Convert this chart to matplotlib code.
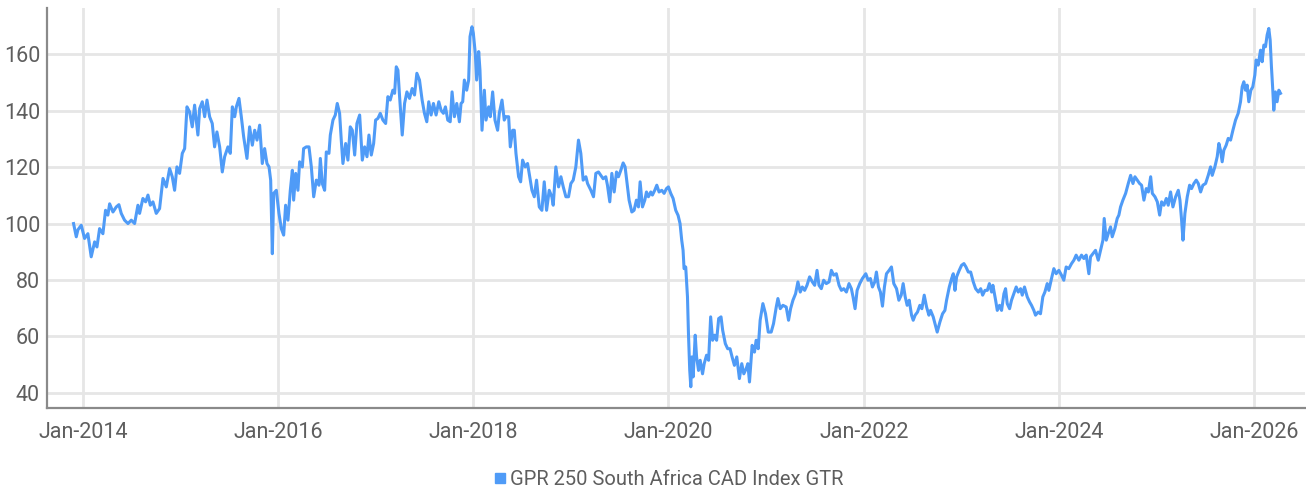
import matplotlib
matplotlib.use("Agg")
import matplotlib.pyplot as plt
import matplotlib.dates as mdates
from matplotlib.lines import Line2D
import pandas as pd

# ---- data (decimal year, index value) ----
years_2014_2015 = [2013.904, 2013.932, 2013.949, 2013.983, 2014.017, 2014.051, 2014.085, 2014.120, 2014.144, 2014.171,
                   2014.205, 2014.232, 2014.256, 2014.274, 2014.308, 2014.342, 2014.369, 2014.393, 2014.427, 2014.462,
                   2014.496, 2014.530, 2014.564, 2014.581, 2014.615, 2014.643, 2014.667, 2014.691, 2014.718, 2014.752,
                   2014.786, 2014.821, 2014.855, 2014.889, 2014.916, 2014.940, 2014.964, 2014.991, 2015.019, 2015.043,
                   2015.067, 2015.094, 2015.121, 2015.145, 2015.162, 2015.179, 2015.197, 2015.224, 2015.248, 2015.272,
                   2015.299, 2015.326, 2015.350, 2015.374, 2015.402, 2015.429, 2015.453, 2015.487, 2015.511, 2015.532,
                   2015.556, 2015.573, 2015.600, 2015.624, 2015.648, 2015.682, 2015.709, 2015.737, 2015.761, 2015.785,
                   2015.812, 2015.839, 2015.863, 2015.887, 2015.908, 2015.925, 2015.942, 2015.956, 2015.983]
values_2014_2015 = [100.0, 95.3, 97.8, 99.4, 94.7, 96.4, 88.2, 93.5, 91.7, 98.2,
                    96.4, 104.7, 103.0, 107.0, 104.1, 105.9, 106.7, 103.6, 101.2, 100.0,
                    101.2, 100.0, 106.5, 103.6, 108.9, 107.7, 110.1, 106.5, 107.7, 103.6,
                    105.3, 116.0, 113.0, 119.5, 116.6, 111.8, 120.1, 117.8, 124.9, 126.6,
                    141.4, 139.6, 134.3, 142.0, 136.7, 131.4, 140.8, 143.2, 137.9, 143.8,
                    137.9, 135.5, 127.2, 132.5, 127.2, 118.3, 123.7, 127.2, 124.9, 141.4,
                    137.9, 141.4, 144.4, 137.9, 130.8, 123.1, 134.3, 127.8, 133.1, 129.6,
                    134.9, 121.3, 126.6, 121.3, 120.1, 115.4, 89.3, 110.7, 111.8]

years_2016_2017 = [2016.010, 2016.034, 2016.058, 2016.078, 2016.102, 2016.126, 2016.147, 2016.160, 2016.181, 2016.204,
                   2016.221, 2016.249, 2016.262, 2016.290, 2016.317, 2016.341, 2016.365, 2016.392, 2016.419, 2016.433,
                   2016.453, 2016.477, 2016.494, 2016.521, 2016.535, 2016.562, 2016.586, 2016.606, 2016.630, 2016.647,
                   2016.664, 2016.692, 2016.715, 2016.739, 2016.760, 2016.784, 2016.807, 2016.835, 2016.862, 2016.886,
                   2016.910, 2016.930, 2016.954, 2016.978, 2016.998, 2017.022, 2017.046, 2017.073, 2017.101, 2017.124,
                   2017.148, 2017.175, 2017.193, 2017.210, 2017.227, 2017.244, 2017.271, 2017.295, 2017.319, 2017.346,
                   2017.373, 2017.397, 2017.421, 2017.448, 2017.475, 2017.499, 2017.523, 2017.543, 2017.567, 2017.591,
                   2017.618, 2017.646, 2017.669, 2017.693, 2017.714, 2017.738, 2017.763, 2017.782, 2017.806, 2017.830,
                   2017.857, 2017.874, 2017.891, 2017.908, 2017.932, 2017.952, 2017.966, 2017.986, 2018.000, 2018.020,
                   2018.034, 2018.055, 2018.068, 2018.089]
values_2016_2017 = [103.6, 98.2, 95.9, 106.5, 101.2, 111.8, 118.9, 108.3, 117.8, 111.8,
                    121.9, 120.1, 126.6, 127.2, 127.2, 120.1, 109.5, 115.4, 113.6, 123.1,
                    114.2, 111.8, 125.4, 124.9, 131.4, 136.7, 138.5, 142.6, 139.1, 129.6,
                    121.3, 128.4, 122.5, 134.3, 133.1, 124.3, 135.5, 138.5, 122.5, 127.2,
                    123.7, 131.4, 124.3, 128.4, 136.7, 137.3, 139.1, 136.7, 135.5, 145.0,
                    143.8, 147.3, 146.2, 155.6, 154.4, 145.0, 131.4, 142.6, 146.7, 144.4,
                    147.9, 145.6, 153.3, 150.9, 143.8, 139.1, 136.1, 143.2, 138.5, 142.6,
                    138.5, 143.2, 140.2, 139.1, 141.4, 136.7, 136.1, 146.7, 137.9, 142.6,
                    136.1, 142.6, 143.2, 150.9, 147.3, 150.9, 166.3, 169.8, 167.5, 160.4,
                    150.9, 161.0, 154.4, 133.1]

years_2018_2020 = [2018.113, 2018.130, 2018.157, 2018.174, 2018.198, 2018.222, 2018.249, 2018.266, 2018.294, 2018.317,
                   2018.334, 2018.362, 2018.379, 2018.403, 2018.420, 2018.437, 2018.464, 2018.485, 2018.505, 2018.532,
                   2018.556, 2018.573, 2018.601, 2018.625, 2018.648, 2018.676, 2018.703, 2018.727, 2018.751, 2018.778,
                   2018.805, 2018.819, 2018.846, 2018.874, 2018.898, 2018.922, 2018.949, 2018.976, 2019.000, 2019.024,
                   2019.051, 2019.078, 2019.102, 2019.126, 2019.154, 2019.171, 2019.205, 2019.232, 2019.256, 2019.283,
                   2019.307, 2019.331, 2019.358, 2019.375, 2019.399, 2019.420, 2019.444, 2019.468, 2019.488, 2019.512,
                   2019.536, 2019.556, 2019.580, 2019.597, 2019.625, 2019.648, 2019.672, 2019.693, 2019.710, 2019.734,
                   2019.758, 2019.775, 2019.795, 2019.819, 2019.836, 2019.860, 2019.881, 2019.904, 2019.932, 2019.956,
                   2019.980, 2020.000, 2020.024, 2020.048, 2020.075, 2020.099, 2020.119, 2020.136, 2020.150, 2020.160,
                   2020.177, 2020.195, 2020.205, 2020.218, 2020.229]
values_2018_2020 = [147.3, 136.7, 141.4, 137.9, 146.7, 136.7, 133.1, 139.1, 143.8, 136.7,
                    137.9, 137.9, 127.2, 133.1, 133.1, 124.9, 116.6, 114.8, 122.5, 120.1,
                    121.3, 117.8, 111.8, 109.5, 115.4, 105.9, 104.7, 114.8, 104.7, 111.8,
                    109.5, 106.5, 120.1, 113.0, 116.6, 113.0, 109.5, 109.5, 114.2, 115.4,
                    120.1, 129.6, 124.9, 115.4, 116.6, 114.2, 111.8, 109.5, 117.8, 118.3,
                    117.1, 115.9, 116.6, 113.6, 107.7, 117.8, 111.2, 118.3, 116.6, 118.9,
                    121.5, 120.1, 113.0, 108.3, 104.1, 104.7, 108.3, 105.9, 114.8, 105.9,
                    108.3, 111.2, 109.5, 111.2, 110.1, 111.8, 113.6, 111.2, 111.8, 110.7,
                    112.4, 113.0, 110.7, 108.9, 104.7, 102.9, 100.0, 94.1, 90.5, 84.0,
                    84.6, 74.0, 61.0, 48.0, 42.1]

years_2020_2023 = [2020.240, 2020.253, 2020.274, 2020.288, 2020.308, 2020.325, 2020.349, 2020.366, 2020.390, 2020.411,
                   2020.432, 2020.452, 2020.473, 2020.493, 2020.514, 2020.538, 2020.555, 2020.582, 2020.606, 2020.630,
                   2020.651, 2020.675, 2020.699, 2020.726, 2020.750, 2020.771, 2020.795, 2020.812, 2020.829, 2020.856,
                   2020.880, 2020.897, 2020.918, 2020.938, 2020.966, 2020.993, 2021.021, 2021.051, 2021.075, 2021.103,
                   2021.120, 2021.144, 2021.171, 2021.205, 2021.229, 2021.250, 2021.274, 2021.301, 2021.325, 2021.349,
                   2021.370, 2021.394, 2021.418, 2021.445, 2021.473, 2021.497, 2021.521, 2021.541, 2021.565, 2021.589,
                   2021.616, 2021.644, 2021.668, 2021.692, 2021.719, 2021.747, 2021.771, 2021.795, 2021.822, 2021.849,
                   2021.873, 2021.890, 2021.911, 2021.932, 2021.959, 2021.986, 2022.021, 2022.045, 2022.068, 2022.089,
                   2022.113, 2022.130, 2022.151, 2022.171, 2022.192, 2022.212, 2022.233, 2022.260, 2022.284, 2022.308,
                   2022.336, 2022.360, 2022.384, 2022.404, 2022.425, 2022.445, 2022.466, 2022.490, 2022.507, 2022.527,
                   2022.551, 2022.575, 2022.596, 2022.620, 2022.644, 2022.668, 2022.685, 2022.712, 2022.740, 2022.753,
                   2022.781, 2022.808, 2022.832, 2022.849, 2022.877, 2022.901, 2022.918, 2022.935, 2022.952, 2022.979,
                   2023.003, 2023.027, 2023.048, 2023.072, 2023.096, 2023.123, 2023.147, 2023.175, 2023.199, 2023.219,
                   2023.243, 2023.267, 2023.288]
values_2020_2023 = [52.7, 45.6, 60.4, 52.7, 47.9, 51.5, 46.7, 50.3, 53.3, 51.5,
                    66.9, 58.6, 60.4, 58.6, 66.3, 66.9, 62.1, 57.4, 55.6, 55.6,
                    52.7, 49.7, 52.7, 45.0, 50.3, 46.7, 48.5, 50.3, 43.8, 56.8,
                    54.4, 58.6, 55.6, 65.7, 71.6, 68.0, 61.5, 61.5, 64.5, 70.4,
                    73.4, 69.8, 71.0, 70.4, 65.7, 69.8, 72.8, 75.1, 79.3, 75.7,
                    77.5, 76.3, 78.1, 81.1, 79.3, 78.1, 83.4, 78.1, 76.9, 79.9,
                    78.7, 79.3, 83.4, 81.7, 82.2, 78.1, 76.3, 76.9, 75.7, 78.7,
                    76.9, 74.0, 69.8, 76.3, 78.7, 80.5, 82.2, 79.9, 80.5, 77.5,
                    79.3, 82.8, 77.5, 75.7, 70.7, 77.5, 82.2, 83.4, 84.6, 78.7,
                    76.9, 72.8, 74.6, 78.7, 74.0, 71.0, 72.8, 67.5, 65.7, 67.5,
                    68.6, 71.0, 69.8, 74.6, 70.4, 67.5, 69.2, 66.9, 63.3, 61.5,
                    65.1, 68.0, 69.2, 72.8, 77.5, 80.5, 82.2, 76.3, 81.1, 83.4,
                    85.2, 85.8, 84.6, 82.8, 82.8, 79.3, 76.9, 75.7, 76.9, 74.6,
                    76.3, 76.3, 78.7]

years_2023_2026 = [2023.311, 2023.324, 2023.352, 2023.369, 2023.392, 2023.413, 2023.437, 2023.454, 2023.471, 2023.495,
                   2023.515, 2023.539, 2023.563, 2023.584, 2023.608, 2023.625, 2023.648, 2023.676, 2023.700, 2023.720,
                   2023.744, 2023.761, 2023.788, 2023.812, 2023.836, 2023.857, 2023.881, 2023.898, 2023.925, 2023.949,
                   2023.973, 2024.000, 2024.027, 2024.051, 2024.075, 2024.102, 2024.130, 2024.154, 2024.177, 2024.205,
                   2024.232, 2024.256, 2024.280, 2024.307, 2024.324, 2024.348, 2024.375, 2024.403, 2024.427, 2024.451,
                   2024.464, 2024.485, 2024.505, 2024.529, 2024.546, 2024.573, 2024.597, 2024.614, 2024.631, 2024.655,
                   2024.683, 2024.710, 2024.734, 2024.758, 2024.778, 2024.802, 2024.826, 2024.846, 2024.870, 2024.894,
                   2024.915, 2024.939, 2024.956, 2024.983, 2025.007, 2025.031, 2025.051, 2025.075, 2025.099, 2025.119,
                   2025.143, 2025.167, 2025.195, 2025.222, 2025.239, 2025.256, 2025.270, 2025.290, 2025.314, 2025.338,
                   2025.358, 2025.382, 2025.406, 2025.427, 2025.451, 2025.474, 2025.502, 2025.529, 2025.553, 2025.570,
                   2025.597, 2025.621, 2025.638, 2025.655, 2025.672, 2025.689, 2025.713, 2025.734, 2025.758, 2025.782,
                   2025.809, 2025.836, 2025.860, 2025.877, 2025.894, 2025.911, 2025.928, 2025.945, 2025.966, 2025.986,
                   2026.007, 2026.020, 2026.041, 2026.065, 2026.082, 2026.099, 2026.116, 2026.133, 2026.150, 2026.164,
                   2026.177, 2026.191, 2026.201, 2026.218, 2026.235, 2026.253, 2026.270]
values_2023_2026 = [75.7, 78.1, 72.8, 69.2, 71.0, 69.2, 75.1, 76.9, 71.6, 69.8,
                    72.8, 75.1, 77.5, 75.7, 76.9, 74.6, 77.5, 74.0, 72.2, 71.0,
                    69.2, 67.5, 68.6, 68.0, 74.0, 75.7, 78.7, 76.3, 80.5, 84.0,
                    82.2, 83.4, 81.7, 79.9, 84.6, 84.0, 85.8, 87.0, 88.8, 87.0,
                    88.8, 87.6, 88.8, 82.2, 88.2, 89.3, 90.5, 87.0, 90.5, 94.1,
                    101.8, 94.1, 96.4, 98.8, 95.3, 98.2, 101.8, 103.0, 105.9, 108.3,
                    110.7, 114.2, 117.1, 114.2, 116.6, 115.4, 114.2, 113.6, 108.3, 112.4,
                    111.2, 116.6, 110.7, 109.5, 107.7, 103.0, 107.7, 106.5, 108.9, 106.5,
                    111.2, 105.9, 109.5, 111.8, 108.3, 101.2, 94.1, 103.6, 109.5, 113.6,
                    112.4, 114.2, 115.4, 114.2, 111.2, 113.6, 114.2, 117.1, 120.1, 117.1,
                    120.1, 123.7, 128.4, 126.0, 121.9, 126.0, 127.8, 130.2, 129.6, 133.1,
                    136.7, 139.1, 143.2, 148.5, 150.3, 147.3, 149.1, 143.2, 147.3, 148.5,
                    152.7, 158.0, 156.2, 161.5, 157.4, 163.3, 162.7, 166.9, 169.2, 165.1,
                    155.6, 147.3, 140.2, 146.7, 143.2, 147.3, 146.2]

series_label = "GPR 250 South Africa CAD Index GTR"
y_ticks = [40, 60, 80, 100, 120, 140, 160]
x_tick_years = [2014, 2016, 2018, 2020, 2022, 2024, 2026]


def dec_to_dt(y):
    yr = int(y)
    start = pd.Timestamp(yr, 1, 1)
    end = pd.Timestamp(yr + 1, 1, 1)
    return start + (end - start) * (y - yr)


years = years_2014_2015 + years_2016_2017 + years_2018_2020 + years_2020_2023 + years_2023_2026
values = values_2014_2015 + values_2016_2017 + values_2018_2020 + values_2020_2023 + values_2023_2026
dates = [dec_to_dt(y) for y in years]

plt.rcParams['font.family'] = ['Roboto', 'DejaVu Sans']

LINE = '#4f9bf7'
TXT = '#5e5e5e'
GRID = '#e6e6e6'

fig = plt.figure(figsize=(13.06, 4.93), dpi=100)
ax = fig.add_axes([0.036, 0.172, 0.963, 0.812])

ax.plot(dates, values, color=LINE, linewidth=2.2, solid_joinstyle='round', zorder=3)

ax.set_ylim(34.5, 176.5)
ax.set_xlim(dec_to_dt(2013.632), dec_to_dt(2026.518))
ax.set_yticks(y_ticks)
ax.set_xticks([pd.Timestamp(y, 1, 1) for y in x_tick_years])
ax.xaxis.set_major_formatter(mdates.DateFormatter('%b-%Y'))

ax.grid(True, color=GRID, linewidth=2, zorder=0)
ax.set_axisbelow(True)
for s in ['top', 'right']:
    ax.spines[s].set_visible(False)
for s in ['left', 'bottom']:
    ax.spines[s].set_color('#8a8a8a')
    ax.spines[s].set_linewidth(1.6)

ax.tick_params(axis='both', length=0, labelsize=15.5, labelcolor=TXT)
ax.tick_params(axis='y', pad=5)
ax.tick_params(axis='x', pad=10)

handle = Line2D([], [], marker='s', linestyle='none', markersize=7.5,
                markerfacecolor=LINE, markeredgecolor=LINE)
fig.legend([handle], [series_label], loc='center', bbox_to_anchor=(0.511, 0.028),
           frameon=False, fontsize=14.5, labelcolor=TXT, handletextpad=0.1,
           handlelength=0.8, borderaxespad=0)

fig.savefig('out.png', dpi=100)
